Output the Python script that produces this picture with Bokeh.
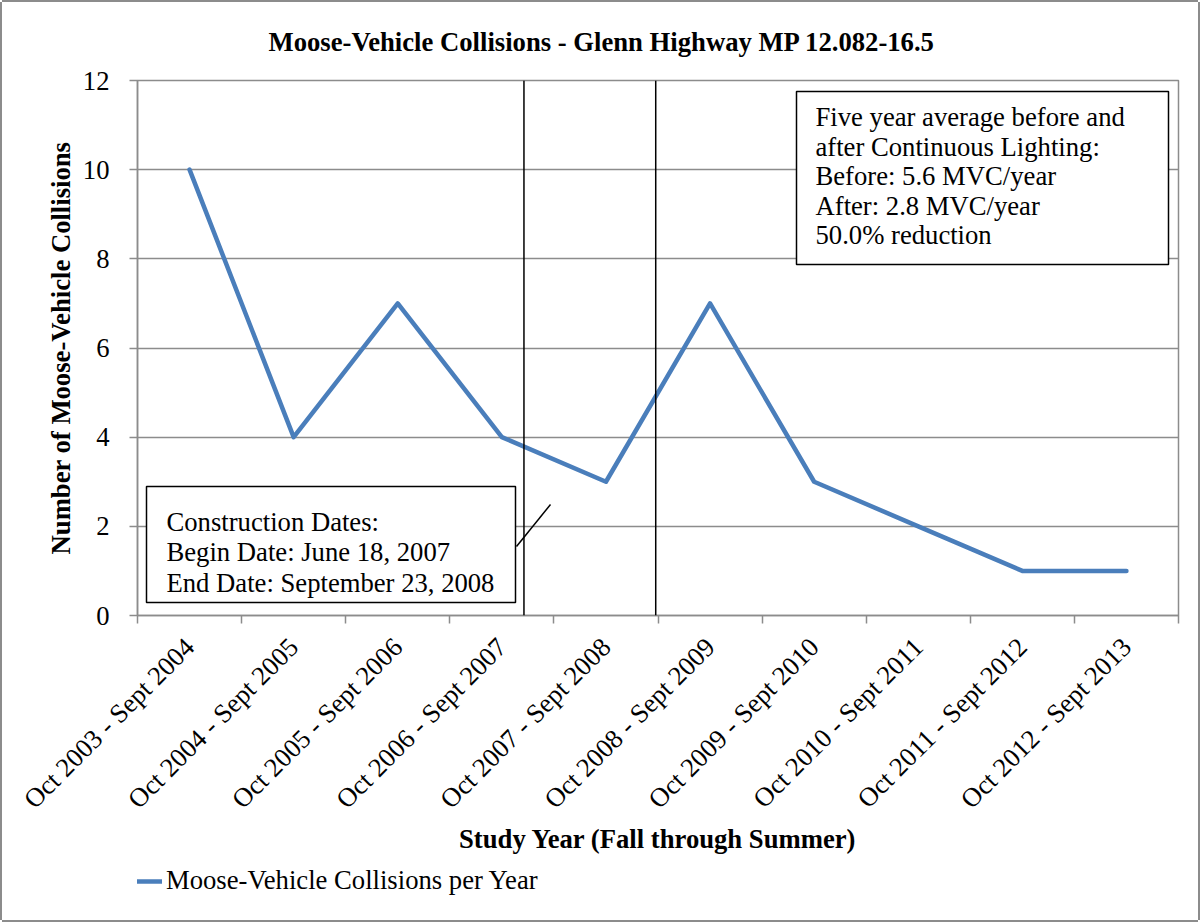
import math
from datetime import date

from bokeh.plotting import figure
from bokeh.layouts import column
from bokeh.models import (FixedTicker, Span, BoxAnnotation, Label, Legend,
                          LegendItem, Range1d)
from bokeh.embed import file_html
from bokeh.resources import INLINE

# ---------------- data ----------------
categories = [
    "Oct 2003 - Sept 2004", "Oct 2004 - Sept 2005", "Oct 2005 - Sept 2006",
    "Oct 2006 - Sept 2007", "Oct 2007 - Sept 2008", "Oct 2008 - Sept 2009",
    "Oct 2009 - Sept 2010", "Oct 2010 - Sept 2011", "Oct 2011 - Sept 2012",
    "Oct 2012 - Sept 2013",
]
collisions = [10, 4, 7, 4, 3, 7, 3, 2, 1, 1]
y_ticks = [0, 2, 4, 6, 8, 10, 12]
first_study_year = 2003
construction_begin = date(2007, 6, 18)
construction_end = date(2008, 9, 23)

title_text = "Moose-Vehicle Collisions - Glenn Highway MP 12.082-16.5"
x_title = "Study Year (Fall through Summer)"
y_title = "Number of Moose-Vehicle Collisions"
series_name = "Moose-Vehicle Collisions per Year"
construction_note = ["Construction Dates:", "Begin Date: June 18, 2007",
                     "End Date: September 23, 2008"]
average_note = ["Five year average before and", "after Continuous Lighting:",
                "Before: 5.6 MVC/year", "After: 2.8 MVC/year", "50.0% reduction"]

# ---------------- style ----------------
FONT = "Liberation Serif"
BLUE = "#4a7ebb"
GRAY = "#8c8c8c"
FS = "26.67px"

# pixel layout of the reference (page pixels)
OFF = 2                                   # outer frame line thickness
FRAME_L, FRAME_T, FRAME_W, FRAME_H = 137, 80, 1041, 535
PAGE_W, PAGE_H = 1200, 922
BOTTOM = 250                              # room under the plot area
FIG_W = PAGE_W - 2 * OFF
P_H = (FRAME_T - OFF) + FRAME_H + BOTTOM
LEG_H = PAGE_H - 2 * OFF - P_H

n = len(categories)
x_pos = [i + 0.5 for i in range(n)]


def year_pos(d):
    start = d.year if d.month >= 10 else d.year - 1
    s, e = date(start, 10, 1), date(start + 1, 10, 1)
    return (start - first_study_year) + (d - s).days / (e - s).days


def xd(px):
    return (px - FRAME_L) / (FRAME_W / n)


def yd(py):
    return (FRAME_T + FRAME_H - py) / (FRAME_H / (y_ticks[-1] - y_ticks[0]))


p = figure(
    output_backend="svg", toolbar_location=None,
    frame_width=FRAME_W, frame_height=FRAME_H,
    min_border_left=FRAME_L - OFF, min_border_top=FRAME_T - OFF,
    min_border_right=FIG_W - (FRAME_L - OFF) - FRAME_W,
    min_border_bottom=BOTTOM,
    x_range=Range1d(0, n), y_range=Range1d(y_ticks[0], y_ticks[-1]),
    background_fill_color="white", border_fill_color="white",
)
p.styles = {"box-shadow": f"-{OFF}px 0 0 0 {GRAY}, {OFF}px 0 0 0 {GRAY}, "
                          f"0 -{OFF}px 0 0 {GRAY}"}
p.outline_line_color = GRAY
p.outline_line_width = 1.5

# title
p.title.text = title_text
p.title.text_font = FONT
p.title.text_font_size = FS
p.title.text_font_style = "bold"
p.title.text_color = "black"
p.title.align = "left"
p.title.vertical_align = "top"
p.title.offset = 131
p.title.standoff = 44

# grid
p.xgrid.grid_line_color = None
p.ygrid.grid_line_color = GRAY
p.ygrid.grid_line_width = 1.5
p.ygrid.ticker = FixedTicker(ticks=y_ticks)

# y axis
p.yaxis.ticker = FixedTicker(ticks=y_ticks)
p.yaxis.axis_line_color = GRAY
p.yaxis.axis_line_width = 1.5
p.yaxis.major_tick_line_color = GRAY
p.yaxis.major_tick_line_width = 1.5
p.yaxis.major_tick_out = 8
p.yaxis.major_tick_in = 0
p.yaxis.minor_tick_line_color = None
p.yaxis.major_label_text_font = FONT
p.yaxis.major_label_text_font_size = FS
p.yaxis.major_label_text_color = "black"
p.yaxis.major_label_standoff = 20
p.yaxis.axis_label = y_title
p.yaxis.axis_label_text_font = FONT
p.yaxis.axis_label_text_font_size = FS
p.yaxis.axis_label_text_font_style = "bold"
p.yaxis.axis_label_text_color = "black"
p.yaxis.axis_label_standoff = 4

# x axis
p.xaxis.ticker = FixedTicker(ticks=x_pos, minor_ticks=list(range(n + 1)))
p.xaxis.major_label_overrides = {x: c for x, c in zip(x_pos, categories)}
p.xaxis.major_label_orientation = math.pi / 4
p.xaxis.axis_line_color = GRAY
p.xaxis.axis_line_width = 1.5
p.xaxis.major_tick_line_color = None
p.xaxis.major_tick_out = 0
p.xaxis.major_tick_in = 0
p.xaxis.minor_tick_line_color = GRAY
p.xaxis.minor_tick_line_width = 1.5
p.xaxis.minor_tick_out = 8
p.xaxis.minor_tick_in = 0
p.xaxis.major_label_text_font = FONT
p.xaxis.major_label_text_font_size = FS
p.xaxis.major_label_text_color = "black"
p.xaxis.major_label_standoff = 19
p.xaxis.axis_label = x_title
p.xaxis.axis_label_text_font = FONT
p.xaxis.axis_label_text_font_size = FS
p.xaxis.axis_label_text_font_style = "bold"
p.xaxis.axis_label_text_color = "black"
p.xaxis.axis_label_standoff = -4

# data line
line_style = dict(line_color=BLUE, line_width=4.5, line_join="round",
                  line_cap="round")
r = p.line(x_pos, collisions, **line_style)

# construction spans
for d in (construction_begin, construction_end):
    p.add_layout(Span(location=year_pos(d), dimension="height",
                      line_color="black", line_width=1.5))

# leader line from construction box
p.segment(x0=[xd(516)], y0=[yd(546)], x1=[xd(550)], y1=[yd(504)],
          line_color="black", line_width=1.5)

# annotation boxes
box_style = dict(fill_color="white", fill_alpha=1.0, line_color="black",
                 line_alpha=1.0, line_width=1.5)
p.add_layout(BoxAnnotation(left=xd(146), right=xd(515), top=yd(486),
                           bottom=yd(602), **box_style))
p.add_layout(BoxAnnotation(left=xd(796), right=xd(1168), top=yd(91),
                           bottom=yd(264), **box_style))

for line, base in zip(construction_note, [521, 551, 582]):
    p.add_layout(Label(x=xd(166), y=yd(base), text=line, text_font=FONT,
                       text_font_size=FS, text_baseline="alphabetic",
                       text_align="left", text_color="black"))
for line, base in zip(average_note, [116, 146, 175, 205, 234]):
    p.add_layout(Label(x=xd(815), y=yd(base), text=line, text_font=FONT,
                       text_font_size=FS, text_baseline="alphabetic",
                       text_align="left", text_color="black"))

# ---------------- legend strip under the chart ----------------
q = figure(output_backend="svg", toolbar_location=None,
           width=FIG_W, height=LEG_H, min_border=0,
           x_axis_location=None, y_axis_location=None,
           x_range=Range1d(-20, -19), y_range=Range1d(-20, -19),
           background_fill_color="white", border_fill_color="white")
q.styles = {"box-shadow": f"-{OFF}px 0 0 0 {GRAY}, {OFF}px 0 0 0 {GRAY}, "
                          f"0 {OFF}px 0 0 {GRAY}"}
q.grid.grid_line_color = None
q.outline_line_color = None
# same series, kept out of this strip's view: only its legend swatch shows
swatch = q.line(x_pos, collisions, **line_style)
LEG_ITEM_H = 30
q_top = OFF + P_H                          # page y of the strip's top
leg_center = 881 - q_top                   # legend row centre inside strip
legend = Legend(items=[LegendItem(label=series_name, renderers=[swatch])],
                location=(107 - FRAME_L, LEG_H - leg_center - LEG_ITEM_H // 2),
                glyph_width=55, glyph_height=LEG_ITEM_H, label_height=LEG_ITEM_H,
                label_standoff=4, padding=0, margin=0,
                border_line_color=None, background_fill_alpha=0,
                label_text_font=FONT, label_text_font_size=FS,
                label_text_color="black")
q.add_layout(legend)

layout = column(p, q, spacing=0, margin=(OFF, 0, 0, OFF))

open("out.html", "w").write(file_html(layout, INLINE))
